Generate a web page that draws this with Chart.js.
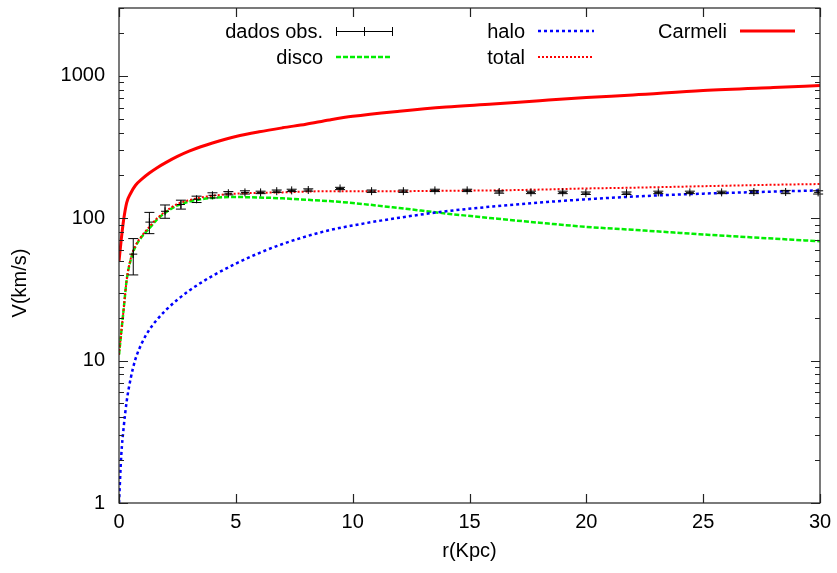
<!DOCTYPE html>
<html>
<head>
<meta charset="utf-8">
<script src="https://cdn.jsdelivr.net/npm/chart.js@4.4.0/dist/chart.umd.min.js"></script>
<style>
  html, body { margin: 0; padding: 0; background: #fff; }
  #wrap { width: 837px; height: 573px; position: relative; }
</style>
</head>
<body>
<div id="wrap"><canvas id="rotationChart"></canvas></div>
<script>
// Observed rotation curve (r in Kpc, V in km/s, error in km/s)
const rObs = [0.61, 1.30, 1.97, 2.65, 3.32, 4.00, 4.68, 5.39, 6.06, 6.75, 7.39, 8.10, 9.46, 10.81,
              12.17, 13.52, 14.90, 16.27, 17.63, 18.99, 19.98, 21.72, 23.08, 24.43, 25.79, 27.17, 28.53, 29.92];
const vObs = [56, 94, 112, 125, 136, 145, 150, 152, 152, 155, 157, 158, 162, 155,
              155, 157, 157, 153, 152, 152, 150, 150, 152, 152, 152, 153, 153, 152];
const errObs = [16, 16, 12, 9, 7, 6, 4, 4, 3, 3, 3, 3, 3, 3,
                3, 3, 3, 3, 3, 3, 3, 3, 3, 3, 3, 4, 4, 4];

// Model curves, read along r
const rModel = [0, 0.1, 0.2, 0.33, 0.5, 0.7, 1, 1.3, 1.6, 2, 2.5, 3, 3.5, 4, 5, 6, 7, 8, 9, 10,
                12, 14, 16, 18, 20, 22, 25, 28, 30];
const vDisco = [11, 16, 23, 37, 51, 63, 75, 85, 97, 110, 123, 131, 136, 139, 141, 140, 138, 135, 132, 128,
                118, 108, 100, 93, 87, 83, 77, 72, 69];
const vHalo = [1, 2.2, 3.4, 5.2, 7.5, 10.2, 13.5, 16.5, 19.2, 22.6, 26.8, 31, 35.2, 39.4, 48, 57, 66, 74.5, 82.5, 89,
               101, 112, 121, 129, 136, 142, 149, 154, 157];
const vTotal = [11, 16, 23, 37, 52, 64, 76, 87, 99, 112, 126, 134, 140, 144, 149, 151, 152, 154, 155, 155,
                155, 156, 157, 159, 162, 164, 168, 172, 174];
const vCarmeli = [50, 72, 98, 129, 150, 170, 190, 208, 225, 246, 272, 296, 318, 338, 375, 405, 432, 458, 490, 520,
                  565, 605, 635, 670, 705, 735, 790, 830, 855];

const xTicks = [0, 5, 10, 15, 20, 25, 30];
const yTicks = [1, 10, 100, 1000];

const FONT = '"Liberation Sans", Arial, Helvetica, sans-serif';
const FONT_SIZE = 20;
const AXIS_COLOR = '#222';

function toPoints(xs, ys) {
    return xs.map((x, i) => ({ x: x, y: ys[i] }));
}

// box round the plot with inward ticks on all sides, plus axis titles
const framePlugin = {
    id: 'frame',
    afterDraw(chart) {
        const ctx = chart.ctx;
        const a = chart.chartArea;
        const xs = chart.scales.x;
        const ys = chart.scales.y;
        ctx.save();
        ctx.strokeStyle = AXIS_COLOR;
        ctx.lineWidth = 1.2;
        ctx.strokeRect(a.left, a.top, a.right - a.left, a.bottom - a.top);
        ctx.beginPath();
        xTicks.forEach(v => {
            const px = Math.round(xs.getPixelForValue(v)) + 0.5;
            ctx.moveTo(px, a.bottom); ctx.lineTo(px, a.bottom - 9);
            ctx.moveTo(px, a.top); ctx.lineTo(px, a.top + 9);
        });
        yTicks.forEach(d => {
            for (let k = 1; k <= 9; k++) {
                const v = d * k;
                if (v > ys.max) break;
                const len = k === 1 ? 9 : 5;
                const py = Math.round(ys.getPixelForValue(v)) + 0.5;
                ctx.moveTo(a.left, py); ctx.lineTo(a.left + len, py);
                ctx.moveTo(a.right, py); ctx.lineTo(a.right - len, py);
            }
        });
        ctx.stroke();

        ctx.fillStyle = '#000';
        ctx.font = FONT_SIZE + 'px ' + FONT;
        ctx.textAlign = 'center';
        ctx.textBaseline = 'middle';
        ctx.fillText('r(Kpc)', (a.left + a.right) / 2, 551);
        ctx.translate(20, 283);
        ctx.rotate(-Math.PI / 2);
        ctx.fillText('V(km/s)', 0, 0);
        ctx.restore();
    }
};

// vertical error bars on the observed points
const errorBarPlugin = {
    id: 'errorBars',
    afterDatasetsDraw(chart) {
        const ctx = chart.ctx;
        const xs = chart.scales.x;
        const ys = chart.scales.y;
        ctx.save();
        ctx.strokeStyle = '#000';
        ctx.lineWidth = 1;
        ctx.beginPath();
        rObs.forEach((r, i) => {
            const px = xs.getPixelForValue(r);
            const top = ys.getPixelForValue(vObs[i] + errObs[i]);
            const bot = ys.getPixelForValue(vObs[i] - errObs[i]);
            ctx.moveTo(px, top); ctx.lineTo(px, bot);
            ctx.moveTo(px - 5, top); ctx.lineTo(px + 5, top);
            ctx.moveTo(px - 5, bot); ctx.lineTo(px + 5, bot);
        });
        ctx.stroke();
        ctx.restore();
    }
};

// gnuplot style key: text right aligned, sample to its right
const keyPlugin = {
    id: 'gpKey',
    afterDraw(chart) {
        const ctx = chart.ctx;
        ctx.save();
        ctx.font = FONT_SIZE + 'px ' + FONT;
        ctx.fillStyle = '#000';
        ctx.textAlign = 'right';
        ctx.textBaseline = 'middle';
        const entries = [
            { label: 'dados obs.', tx: 323, y: 31, x0: 336, x1: 392, kind: 'err' },
            { label: 'disco', tx: 323, y: 57, x0: 336, x1: 392, ds: 1 },
            { label: 'halo', tx: 525, y: 31, x0: 538, x1: 594, ds: 2 },
            { label: 'total', tx: 525, y: 57, x0: 538, x1: 594, ds: 3 },
            { label: 'Carmeli', tx: 727, y: 31, x0: 740, x1: 795, ds: 4 }
        ];
        entries.forEach(e => {
            ctx.fillText(e.label, e.tx, e.y + 1);
            ctx.beginPath();
            if (e.kind === 'err') {
                ctx.strokeStyle = '#000';
                ctx.lineWidth = 1;
                ctx.setLineDash([]);
                ctx.moveTo(e.x0, e.y + 0.5); ctx.lineTo(e.x1, e.y + 0.5);
                [e.x0, (e.x0 + e.x1) / 2, e.x1].forEach(x => {
                    ctx.moveTo(x + 0.5, e.y - 4); ctx.lineTo(x + 0.5, e.y + 5);
                });
            } else {
                const d = chart.data.datasets[e.ds];
                ctx.strokeStyle = d.borderColor;
                ctx.lineWidth = d.borderWidth;
                ctx.setLineDash(d.borderDash || []);
                ctx.moveTo(e.x0, e.y); ctx.lineTo(e.x1, e.y);
            }
            ctx.stroke();
        });
        ctx.restore();
    }
};

const ctx = document.getElementById('rotationChart').getContext('2d');
new Chart(ctx, {
    type: 'scatter',
    data: {
        datasets: [
            {
                label: 'dados obs.',
                data: toPoints(rObs, vObs),
                showLine: false,
                pointStyle: 'cross',
                pointRadius: 4,
                pointBorderWidth: 1,
                borderColor: '#000',
                backgroundColor: '#000',
                order: 0
            },
            {
                label: 'disco',
                data: toPoints(rModel, vDisco),
                showLine: true,
                borderColor: '#00ee00',
                borderWidth: 2.5,
                borderDash: [5, 2],
                pointRadius: 0,
                cubicInterpolationMode: 'monotone',
                order: 4
            },
            {
                label: 'halo',
                data: toPoints(rModel, vHalo),
                showLine: true,
                borderColor: '#0000ff',
                borderWidth: 2.5,
                borderDash: [3, 3],
                pointRadius: 0,
                cubicInterpolationMode: 'monotone',
                order: 3
            },
            {
                label: 'total',
                data: toPoints(rModel, vTotal),
                showLine: true,
                borderColor: '#ff0000',
                borderWidth: 2,
                borderDash: [2, 2],
                pointRadius: 0,
                cubicInterpolationMode: 'monotone',
                order: 2
            },
            {
                label: 'Carmeli',
                data: toPoints(rModel, vCarmeli),
                showLine: true,
                borderColor: '#ff0000',
                borderWidth: 3,
                pointRadius: 0,
                cubicInterpolationMode: 'monotone',
                order: 1
            }
        ]
    },
    options: {
        responsive: true,
        maintainAspectRatio: false,
        animation: false,
        layout: { padding: { top: 8, right: 17, left: 0, bottom: 0 } },
        plugins: {
            legend: { display: false },
            tooltip: { enabled: false }
        },
        scales: {
            x: {
                type: 'linear',
                min: 0,
                max: 30,
                border: { display: false },
                grid: { display: false, drawTicks: false },
                ticks: {
                    stepSize: 5,
                    padding: 7,
                    color: '#000',
                    font: { family: FONT, size: FONT_SIZE },
                    maxRotation: 0
                },
                afterFit(scale) {
                    scale.height = 70;
                    scale.paddingLeft = 0;
                    scale.paddingRight = 0;
                }
            },
            y: {
                type: 'logarithmic',
                min: 1,
                max: 3000,
                border: { display: false },
                grid: { display: false, drawTicks: false },
                afterBuildTicks(scale) {
                    scale.ticks = yTicks.map(v => ({ value: v }));
                },
                ticks: {
                    padding: 14,
                    color: '#000',
                    font: { family: FONT, size: FONT_SIZE },
                    callback: v => String(v)
                },
                afterFit(scale) {
                    scale.width = 119;
                    scale.paddingTop = 0;
                    scale.paddingBottom = 0;
                }
            }
        }
    },
    plugins: [framePlugin, errorBarPlugin, keyPlugin]
});
</script>
</body>
</html>
